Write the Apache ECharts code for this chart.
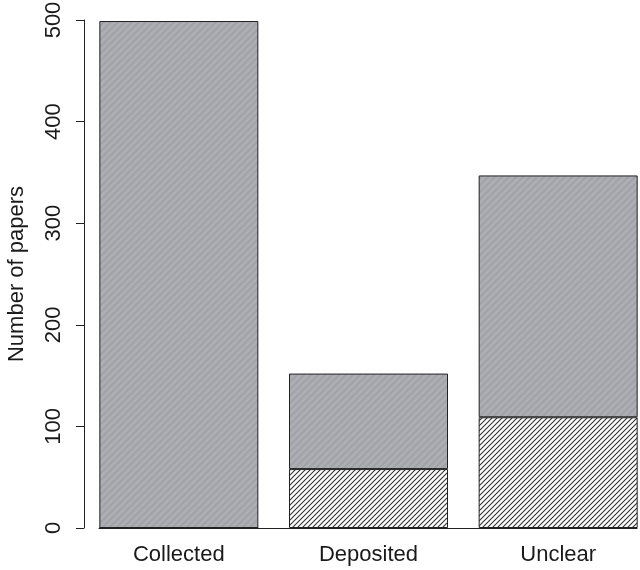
<!DOCTYPE html>
<html>
<head>
<meta charset="utf-8">
<script src="https://cdn.jsdelivr.net/npm/echarts@6/dist/echarts.min.js"></script>
<style>
  html, body { margin: 0; padding: 0; background: #fff; }
  #main { width: 640px; height: 570px; }
</style>
</head>
<body>
<div id="main"></div>
<script>
var categories = ['Collected', 'Deposited', 'Unclear'];
// hatched (white with black stripes) bottom part
var hatchedValues = [0, 58, 109];
// grey upper part
var greyValues = [499, 94, 238];
var yTicks = { min: 0, max: 500, interval: 100 };

// diagonal stripe tiles
function makeStripes(size, bg, fg, lw) {
  var c = document.createElement('canvas');
  c.width = size;
  c.height = size;
  var ctx = c.getContext('2d');
  ctx.fillStyle = bg;
  ctx.fillRect(0, 0, size, size);
  ctx.strokeStyle = fg;
  ctx.lineWidth = lw;
  ctx.beginPath();
  ctx.moveTo(0, size); ctx.lineTo(size, 0);
  ctx.moveTo(-1, 1); ctx.lineTo(1, -1);
  ctx.moveTo(size - 1, size + 1); ctx.lineTo(size + 1, size - 1);
  ctx.stroke();
  return c;
}

var hatchTile = makeStripes(5, '#ffffff', '#333333', 1.1);
var greyTile = makeStripes(7, '#adaeb3', '#a0a1a6', 1.6);

var myChart = echarts.init(document.getElementById('main'));
var textColor = '#1a1a1a';
var font = 'Liberation Sans, Arial, sans-serif';

var option = {
  animation: false,
  backgroundColor: '#fff',
  grid: [
    { left: 84, right: -13, top: 20, bottom: 42, outerBoundsMode: 'none' },
    // only used for the baseline under the bars
    { left: 99, right: 3, top: 20, bottom: 42, outerBoundsMode: 'none' }
  ],
  xAxis: [
    {
      type: 'category',
      gridIndex: 0,
      data: categories,
      axisLine: { show: false },
      axisTick: { show: false },
      axisLabel: { color: textColor, fontSize: 22, fontFamily: font, margin: 16 }
    },
    {
      type: 'value',
      gridIndex: 1,
      min: 0,
      max: 1,
      axisLine: { show: true, lineStyle: { color: '#222', width: 1 } },
      axisTick: { show: false },
      axisLabel: { show: false },
      splitLine: { show: false }
    }
  ],
  yAxis: [
    {
      type: 'value',
      gridIndex: 0,
      min: yTicks.min,
      max: yTicks.max,
      interval: yTicks.interval,
      name: 'Number of papers',
      nameLocation: 'middle',
      nameRotate: 90,
      nameGap: 56,
      nameTextStyle: { color: textColor, fontSize: 22, fontFamily: font },
      axisLine: { show: true, lineStyle: { color: '#222', width: 1 } },
      axisTick: { show: true, length: 8, lineStyle: { color: '#222' } },
      axisLabel: { color: textColor, fontSize: 22, fontFamily: font, rotate: 90, margin: 19 },
      splitLine: { show: false }
    },
    {
      type: 'value',
      gridIndex: 1,
      show: false
    }
  ],
  series: [
    {
      name: 'hatched',
      type: 'bar',
      stack: 'total',
      xAxisIndex: 0,
      yAxisIndex: 0,
      barWidth: 159,
      data: hatchedValues,
      itemStyle: {
        color: { image: hatchTile, repeat: 'repeat' },
        borderColor: '#222',
        borderWidth: 1
      }
    },
    {
      name: 'grey',
      type: 'bar',
      stack: 'total',
      xAxisIndex: 0,
      yAxisIndex: 0,
      barWidth: 159,
      data: greyValues,
      itemStyle: {
        color: { image: greyTile, repeat: 'repeat' },
        borderColor: '#222',
        borderWidth: 1
      }
    }
  ]
};
option && myChart.setOption(option);
</script>
</body>
</html>
